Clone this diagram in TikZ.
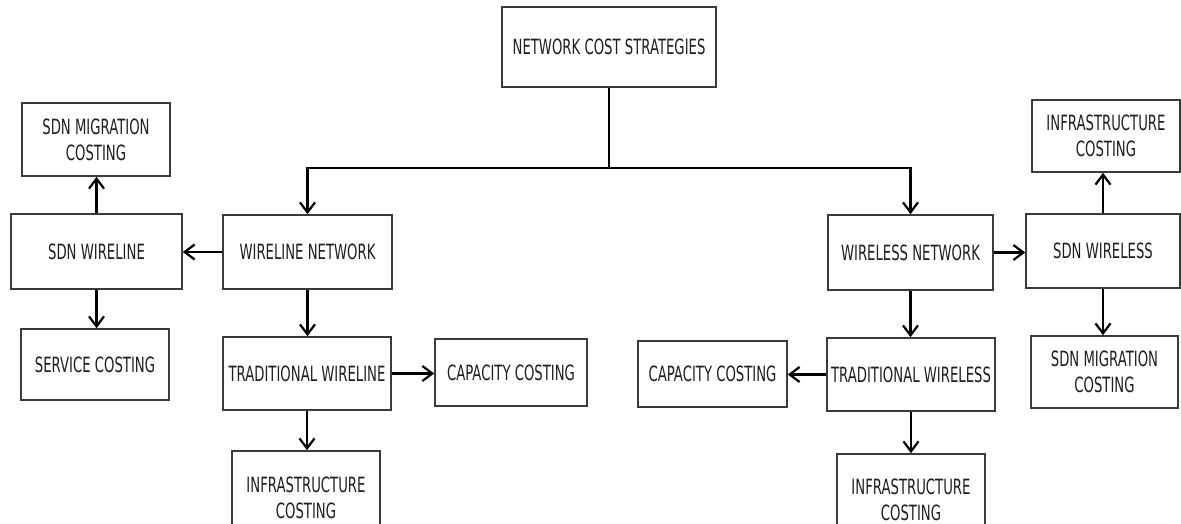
\documentclass[tikz,border=0pt]{standalone}
\usepackage{fontspec}
\usetikzlibrary{arrows.meta}
\newfontfamily\labfont[FakeStretch=0.63]{DejaVu Sans}
\definecolor{boxline}{HTML}{3A3A3A}
\definecolor{labtext}{HTML}{1E1E1E}
\begin{document}
\begin{tikzpicture}[x=1pt,y=-1pt,
  box/.style={draw=boxline, line width=1.6pt, fill=white, inner sep=2pt,
    align=center, text=labtext,
    font=\labfont\fontsize{21}{26}\selectfont},
  link/.style={line width=2.2pt, draw=black},
  arr/.style={link, -{Straight Barb[length=10pt,width=15pt,line width=2.2pt]}}]
\useasboundingbox (0,0) rectangle (1181,524);
\clip (0,0) rectangle (1181,524);
\fill[white] (0,0) rectangle (1181,524);

% root
\node[box, minimum width=214pt, minimum height=80pt] (root) at (609,47) {NETWORK COST STRATEGIES};

% wireline branch
\node[box, minimum width=169pt, minimum height=74pt] (wln) at (307.5,252) {WIRELINE NETWORK};
\node[box, minimum width=171pt, minimum height=75pt] (sdnwl) at (96.5,251.5) {SDN WIRELINE};
\node[box, minimum width=148pt, minimum height=73pt] (migl) at (96,139.5) {SDN MIGRATION\\COSTING};
\node[box, minimum width=148pt, minimum height=71pt] (serv) at (95,364.5) {SERVICE COSTING};
\node[box, minimum width=168pt, minimum height=73pt] (trwl) at (307,373.5) {TRADITIONAL WIRELINE};
\node[box, minimum width=152pt, minimum height=67pt] (capl) at (511,372.5) {CAPACITY COSTING};
\node[box, minimum width=148pt, minimum height=94pt] (infl) at (306,498) {INFRASTRUCTURE\\COSTING};

% wireless branch
\node[box, minimum width=165pt, minimum height=75pt] (wls) at (910.5,252.5) {WIRELESS NETWORK};
\node[box, minimum width=154pt, minimum height=74pt] (sdnwls) at (1103,251) {SDN WIRELESS};
\node[box, minimum width=148pt, minimum height=72pt] (inftr) at (1106,136) {INFRASTRUCTURE\\COSTING};
\node[box, minimum width=147pt, minimum height=72pt] (migr) at (1104.5,372) {SDN MIGRATION\\COSTING};
\node[box, minimum width=168pt, minimum height=73pt] (trwls) at (911,374.5) {TRADITIONAL WIRELESS};
\node[box, minimum width=149pt, minimum height=66pt] (capr) at (712.5,374) {CAPACITY COSTING};
\node[box, minimum width=148pt, minimum height=91pt] (infr) at (911,499.5) {INFRASTRUCTURE\\COSTING};

% tree trunk
\coordinate (split) at (609,168);
\draw[link] (root.south) -- (split);
\draw[arr] (split) -| (wln.north);
\draw[arr] (split) -| (wls.north);

% wireline connectors
\draw[arr] (wln.west) -- (wln.west -| sdnwl.east);
\draw[arr] (sdnwl.north) -- (sdnwl.north |- migl.south);
\draw[arr] (sdnwl.south) -- (sdnwl.south |- serv.north);
\draw[arr] (wln.south) -- (wln.south |- trwl.north);
\draw[arr] (trwl.east) -- (trwl.east -| capl.west);
\draw[arr] (trwl.south) -- (trwl.south |- infl.north);

% wireless connectors
\draw[arr] (wls.east) -- (wls.east -| sdnwls.west);
\draw[arr] (sdnwls.north) -- (sdnwls.north |- inftr.south);
\draw[arr] (sdnwls.south) -- (sdnwls.south |- migr.north);
\draw[arr] (wls.south) -- (wls.south |- trwls.north);
\draw[arr] (trwls.west) -- (trwls.west -| capr.east);
\draw[arr] (trwls.south) -- (trwls.south |- infr.north);
\end{tikzpicture}
\end{document}
